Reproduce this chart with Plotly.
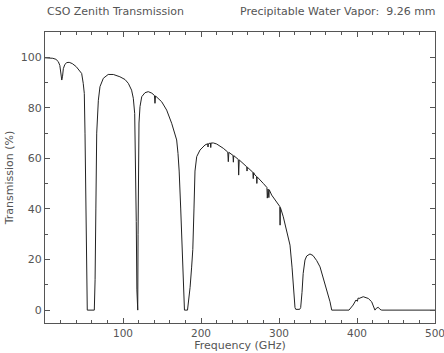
import plotly.graph_objects as go

freq = [0, 5, 10, 14, 17, 19, 20.5, 21.5, 22.5, 23.5, 25.5, 28, 31, 35, 40, 44, 47, 49, 50.4,
        51.3, 52.2, 53.2, 54.2, 63.2, 64.2, 65.2, 66.3, 68.4, 70.5, 74.8, 81, 87.6, 96, 102.6,
        106.8, 111, 113.2, 115, 116, 117, 117.8, 118.3, 118.9, 119.3, 119.7, 120.5, 121.8, 124,
        128.2, 132.4, 137, 140.3, 141, 141.7, 149.6, 156, 162.4, 166.7, 168.8, 170.5, 172, 174,
        176, 177.5, 178.8, 182.7, 184, 186, 188, 189.5, 191, 192.3, 194.5, 198.7, 205.1, 208.5,
        209, 209.5, 212, 212.5, 213, 216, 220.1, 228.6, 234.3, 235, 235.7, 237.2, 241, 241.5,
        242, 247.8, 248.3, 249, 258.6, 259, 259.5, 266.5, 267, 267.5, 269.2, 271.2, 271.6, 272,
        279.9, 284.5, 285, 286, 287, 287.5, 290.6, 299.1, 301, 301.4, 301.8, 305.5, 309.9, 312,
        314.1, 316.7, 319.2, 320.5, 321.5, 326.5, 327.8, 328.5, 329.5, 331, 333.3, 335.5, 339.7,
        343.6, 348.3, 352.6, 359, 365.4, 367.6, 389.7, 395, 398.7, 400.5, 401.5, 402.6, 408,
        414.5, 418.8, 423, 425, 427.3, 429.5, 431.7, 500]
trans = [99.8, 99.8, 99.6, 99.2, 98.3, 96.8, 93.5, 91.0, 92.5, 95.5, 97.2, 97.9, 98.0, 97.5, 96.3,
         95.0, 93.6, 89.7, 85.7, 70, 40, 12, 0, 0, 12, 40, 70, 83, 88.4, 91.7, 93.2, 93.2, 92.3,
         91.2, 89.7, 87, 83.8, 77.8, 62, 35, 8, 0, 0, 30, 62, 74, 80.5, 84.4, 86, 86.4, 85.8, 84.9,
         81.8, 84.7, 82.4, 79.1, 73.9, 69.3, 67.3, 62, 55, 40, 20, 5, 0, 0, 3, 9, 17, 24, 40, 55,
         60.7, 63.3, 65.3, 65.8, 64.5, 65.8, 66.1, 64.3, 66.1, 66.1, 65.7, 64, 62.5, 58.7, 62.4,
         62, 61.2, 58.5, 61.1, 59.6, 53.4, 59.4, 56.7, 55, 56.5, 54.5, 52, 54.4, 53.4, 52.9, 50.1,
         52.7, 50.1, 48.5, 44.3, 47.9, 44.5, 47.6, 45.5, 42.2, 41, 33.6, 40.6, 36.9, 31.7, 29,
         25.7, 17, 6, 1, 0.3, 0.3, 1, 3, 7, 14.5, 19.8, 21.4, 22.2, 21.6, 19.6, 17.1, 10.6, 3.3,
         0, 0, 2, 4, 3.5, 4.8, 4.6, 5.3, 4.6, 3.3, 0, 0.8, 1.1, 0.3, 0, 0]

x_ticks = [100, 200, 300, 400, 500]
y_ticks = [0, 20, 40, 60, 80, 100]
title_left = "CSO Zenith Transmission"
title_right = "Precipitable Water Vapor:\u00a0\u00a09.26 mm"

FONT = "DejaVu Sans"
TXT = "#555555"
AX = "#555555"

fig = go.Figure()
fig.add_trace(go.Scatter(x=freq, y=trans, mode="lines",
                         line=dict(color="#222222", width=1), hoverinfo="skip"))

fig.update_layout(
    width=444, height=353,
    margin=dict(l=45, r=9, t=32, b=30, autoexpand=False),
    paper_bgcolor="white", plot_bgcolor="white",
    showlegend=False,
    font=dict(family=FONT, size=10, color=TXT),
    annotations=[
        dict(text=title_left, xref="paper", yref="paper", x=0, y=1, yshift=21,
             xanchor="left", yanchor="middle", showarrow=False,
             font=dict(family=FONT, size=11, color=TXT)),
        dict(text=title_right, xref="paper", yref="paper", x=1, y=1, yshift=21, xshift=3,
             xanchor="right", yanchor="middle", showarrow=False,
             font=dict(family=FONT, size=11, color=TXT)),
    ],
)
fig.update_xaxes(
    range=[0, 500], tickvals=x_ticks, ticktext=[str(v) for v in x_ticks],
    ticks="inside", ticklen=5, tickcolor=AX, tickwidth=1,
    minor=dict(dtick=20, tick0=0, ticks="inside", ticklen=3, tickcolor=AX, showgrid=False),
    showline=True, linecolor=AX, linewidth=1, mirror="ticks",
    showgrid=False, zeroline=False, ticklabeloverflow="allow", automargin=False,
    title=dict(text="Frequency (GHz)", font=dict(family=FONT, size=11, color=TXT), standoff=1),
    tickfont=dict(family=FONT, size=10.5, color=TXT),
)
fig.update_yaxes(
    range=[-5.1, 110], tickvals=y_ticks, ticktext=[str(v) for v in y_ticks],
    ticks="inside", ticklen=5, tickcolor=AX, tickwidth=1,
    minor=dict(dtick=10, tick0=0, ticks="inside", ticklen=3, tickcolor=AX, showgrid=False),
    showline=True, linecolor=AX, linewidth=1, mirror="ticks",
    showgrid=False, zeroline=False, automargin=False,
    title=dict(text="Transmission (%)", font=dict(family=FONT, size=11, color=TXT), standoff=4),
    tickfont=dict(family=FONT, size=11, color=TXT),
)

fig.write_html("out.html")
